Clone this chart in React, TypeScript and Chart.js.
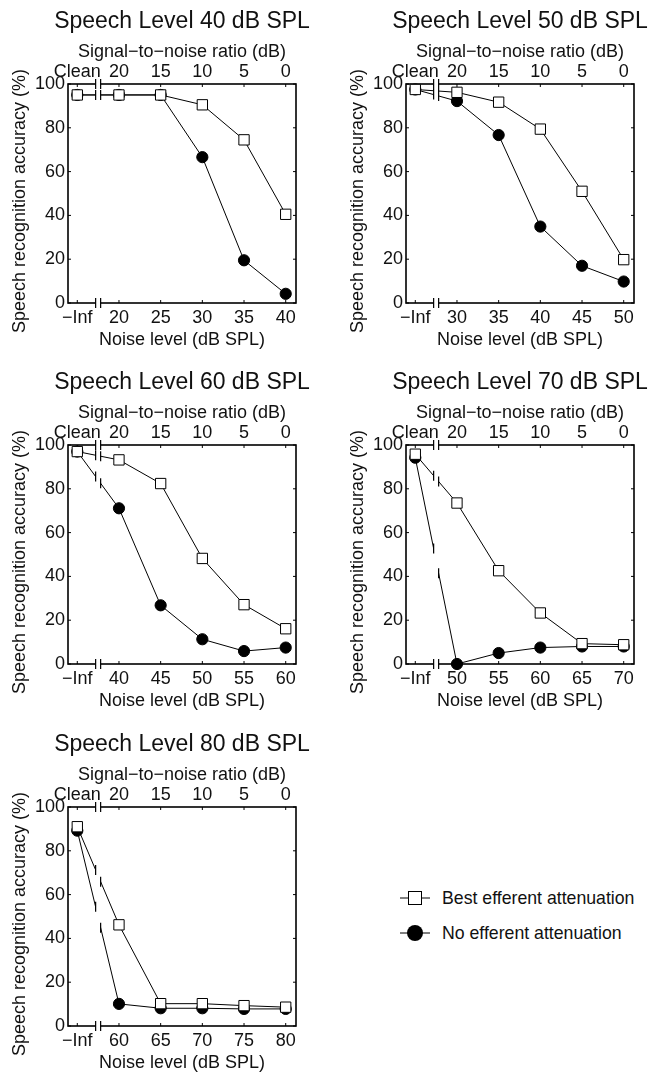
import React, { useEffect, useRef } from 'react';
import { Chart, registerables } from 'chart.js';

Chart.register(...registerables);

// ---------------- data ----------------
const speechLevels = [40, 50, 60, 70, 80];
const seriesNames = ['Best efferent attenuation', 'No efferent attenuation'];
const noiseTickLabels = [
  ['−Inf', '20', '25', '30', '35', '40'],
  ['−Inf', '30', '35', '40', '45', '50'],
  ['−Inf', '40', '45', '50', '55', '60'],
  ['−Inf', '50', '55', '60', '65', '70'],
  ['−Inf', '60', '65', '70', '75', '80'],
];
const snrTickLabels = ['Clean', '20', '15', '10', '5', '0'];
const yTickValues = [0, 20, 40, 60, 80, 100];
const bestEfferent = [
  [95, 95, 95, 90.5, 74.5, 40.5],
  [97.5, 96.2, 91.7, 79.4, 51, 19.8],
  [97, 93.2, 82.4, 48.2, 27.1, 16.1],
  [95.8, 73.5, 42.6, 23.3, 9.3, 8.8],
  [91, 46.2, 10.2, 10.2, 9.3, 8.6],
];
const noEfferent = [
  [95, 95, 95, 66.6, 19.5, 4.2],
  [97.5, 92.2, 76.7, 34.9, 17, 9.8],
  [97, 71.1, 26.8, 11.3, 5.9, 7.5],
  [94.2, 0, 5, 7.5, 8, 8],
  [89.2, 10.1, 8.1, 8.1, 7.8, 7.8],
];

// ---------------- layout / style ----------------
const FONT_FAMILY = '"Liberation Sans", Arial, Helvetica, sans-serif';
const TEXT_COLOR = '#111';
const CANVAS_W = 364;
const CANVAS_H = 349;
const PLOT_LEFT = 68;
const PLOT_RIGHT = 296;
const PLOT_TOP = 84;
const PLOT_BOTTOM = 303;
const TITLE_SIZE = 23;
const TITLE_PAD_TOP = 7.7;
const TITLE_BOX_H = TITLE_SIZE * 1.2 + TITLE_PAD_TOP;
const X_MIN = -0.223;
const X_MAX = 5.247;
const BREAK_START = 0.44;
const BREAK_END = 0.56;
const panelPositions = [
  { left: 0, top: 0 },
  { left: 338, top: 0 },
  { left: 0, top: 361 },
  { left: 338, top: 361 },
  { left: 0, top: 723 },
];

const tickFont = { family: FONT_FAMILY, size: 18 };
const axisTitleFont = { family: FONT_FAMILY, size: 18, lineHeight: 1 };

const frameBreakPlugin = {
  id: 'frameBreak',
  beforeDatasetsDraw(chart: any) {
    const { ctx, chartArea: a, scales } = chart;
    ctx.save();
    ctx.strokeStyle = '#000';
    ctx.lineWidth = 1.6;
    ctx.strokeRect(a.left, a.top, a.right - a.left, a.bottom - a.top);
    ctx.lineWidth = 1;
    ctx.beginPath();
    for (const t of scales.x.ticks) {
      const px = scales.x.getPixelForValue(t.value);
      ctx.moveTo(px, a.bottom);
      ctx.lineTo(px, a.bottom - 3);
      ctx.moveTo(px, a.top);
      ctx.lineTo(px, a.top + 3);
    }
    for (const t of scales.y.ticks) {
      const py = scales.y.getPixelForValue(t.value);
      ctx.moveTo(a.left, py);
      ctx.lineTo(a.left + 3, py);
      ctx.moveTo(a.right, py);
      ctx.lineTo(a.right - 3, py);
    }
    ctx.stroke();
    ctx.restore();
  },
  afterDatasetsDraw(chart: any) {
    const { ctx, chartArea: a, scales } = chart;
    const b0 = scales.x.getPixelForValue(BREAK_START);
    const b1 = scales.x.getPixelForValue(BREAK_END);
    ctx.save();
    ctx.fillStyle = '#fff';
    ctx.fillRect(b0, a.top - 2, b1 - b0, a.bottom - a.top + 4);
    ctx.strokeStyle = '#000';
    ctx.lineWidth = 1.2;
    ctx.beginPath();
    const mark = (x: number, y: number) => {
      ctx.moveTo(x, y - 5);
      ctx.lineTo(x, y + 5);
    };
    [b0, b1].forEach((bx) => {
      mark(bx, a.top);
      mark(bx, a.bottom);
    });
    chart.data.datasets.forEach((_: any, di: number) => {
      const meta = chart.getDatasetMeta(di);
      const p0 = meta.data[0];
      const p1 = meta.data[1];
      if (!p0 || !p1) return;
      [b0, b1].forEach((bx) => {
        const t = (bx - p0.x) / (p1.x - p0.x);
        mark(bx, p0.y + t * (p1.y - p0.y));
      });
    });
    ctx.stroke();
    ctx.restore();
  },
};

function buildConfig(i: number): any {
  const noiseLabels = noiseTickLabels[i];
  const toPoints = (vals: number[]) => vals.map((y, k) => ({ x: k, y }));
  const indexTicks = (scale: any) => {
    scale.ticks = noiseLabels.map((_, k) => ({ value: k }));
  };
  const commonDs = {
    borderColor: '#000',
    borderWidth: 1,
    pointBorderColor: '#000',
    pointBorderWidth: 1,
    tension: 0,
    fill: false,
    clip: false,
  };
  return {
    type: 'line',
    data: {
      datasets: [
        {
          ...commonDs,
          label: seriesNames[0],
          data: toPoints(bestEfferent[i]),
          pointStyle: 'rect',
          pointRadius: 7.3,
          pointBackgroundColor: '#fff',
          backgroundColor: '#fff',
        },
        {
          ...commonDs,
          label: seriesNames[1],
          data: toPoints(noEfferent[i]),
          pointStyle: 'circle',
          pointRadius: 5.6,
          pointBackgroundColor: '#000',
          backgroundColor: '#000',
        },
      ],
    },
    options: {
      animation: false,
      responsive: false,
      events: [],
      layout: { padding: 0 },
      plugins: {
        legend: { display: false },
        tooltip: { enabled: false },
        title: {
          display: true,
          text: `Speech Level ${speechLevels[i]} dB SPL`,
          color: TEXT_COLOR,
          font: { family: FONT_FAMILY, size: TITLE_SIZE, weight: 'normal', lineHeight: 1.2 },
          padding: { top: TITLE_PAD_TOP, bottom: 0 },
        },
      },
      scales: {
        x: {
          type: 'linear',
          position: 'bottom',
          min: X_MIN,
          max: X_MAX,
          afterBuildTicks: indexTicks,
          ticks: {
            callback: (v: any) => noiseLabels[v] ?? '',
            font: tickFont,
            color: TEXT_COLOR,
            padding: 4,
            maxRotation: 0,
            autoSkip: false,
          },
          grid: { display: false, drawTicks: false },
          border: { display: false },
          title: {
            display: true,
            text: 'Noise level (dB SPL)',
            font: axisTitleFont,
            color: TEXT_COLOR,
            padding: { top: 0, bottom: 0 },
          },
          afterFit: (s: any) => {
            s.height = CANVAS_H - PLOT_BOTTOM;
          },
        },
        x2: {
          type: 'linear',
          position: 'top',
          min: X_MIN,
          max: X_MAX,
          afterBuildTicks: indexTicks,
          ticks: {
            callback: (v: any) => snrTickLabels[v] ?? '',
            font: tickFont,
            color: TEXT_COLOR,
            padding: 1,
            maxRotation: 0,
            autoSkip: false,
          },
          grid: { display: false, drawTicks: false },
          border: { display: false },
          title: {
            display: true,
            text: 'Signal−to−noise ratio (dB)',
            font: axisTitleFont,
            color: TEXT_COLOR,
            padding: { top: 8.2, bottom: 0 },
          },
          afterFit: (s: any) => {
            s.height = PLOT_TOP - TITLE_BOX_H;
          },
        },
        y: {
          type: 'linear',
          position: 'left',
          min: 0,
          max: 100,
          afterBuildTicks: (s: any) => {
            s.ticks = yTickValues.map((v) => ({ value: v }));
          },
          ticks: { font: tickFont, color: TEXT_COLOR, padding: 3 },
          grid: { display: false, drawTicks: false },
          border: { display: false },
          title: {
            display: true,
            text: 'Speech recognition accuracy (%)   ',
            font: axisTitleFont,
            color: TEXT_COLOR,
            padding: { top: 11, bottom: 0 },
          },
          afterFit: (s: any) => {
            s.width = PLOT_LEFT;
          },
        },
        y2: {
          type: 'linear',
          position: 'right',
          min: 0,
          max: 100,
          ticks: { display: false },
          grid: { display: false, drawTicks: false },
          border: { display: false },
          afterFit: (s: any) => {
            s.width = CANVAS_W - PLOT_RIGHT;
          },
        },
      },
    },
    plugins: [frameBreakPlugin],
  };
}

function Panel({ index, left, top }: { index: number; left: number; top: number }) {
  const ref = useRef<HTMLCanvasElement>(null);
  useEffect(() => {
    if (!ref.current) return;
    const chart = new Chart(ref.current, buildConfig(index));
    return () => chart.destroy();
  }, [index]);
  return (
    <canvas
      ref={ref}
      width={CANVAS_W}
      height={CANVAS_H}
      style={{ position: 'absolute', left, top, width: CANVAS_W, height: CANVAS_H }}
    />
  );
}

function Legend() {
  const rows = [
    { label: seriesNames[0], marker: 'square', cy: 898 },
    { label: seriesNames[1], marker: 'circle', cy: 933 },
  ];
  return (
    <>
      {rows.map((r) => (
        <div
          key={r.label}
          style={{ position: 'absolute', left: 398, top: r.cy - 10, height: 20, display: 'flex', alignItems: 'center' }}
        >
          <svg width={34} height={20} style={{ display: 'block' }}>
            <line x1={2} y1={10} x2={32} y2={10} stroke="#000" strokeWidth={1} />
            {r.marker === 'square' ? (
              <rect x={10.5} y={3.5} width={13} height={13} fill="#fff" stroke="#000" strokeWidth={1} />
            ) : (
              <circle cx={17} cy={10} r={8} fill="#000" />
            )}
          </svg>
          <span
            style={{
              marginLeft: 10,
              fontSize: 17.7,
              lineHeight: '20px',
              color: TEXT_COLOR,
              whiteSpace: 'nowrap',
              fontFamily: FONT_FAMILY,
            }}
          >
            {r.label}
          </span>
        </div>
      ))}
    </>
  );
}

export default function App() {
  return (
    <div
      style={{
        position: 'absolute',
        left: 0,
        top: 0,
        width: 649,
        height: 1072,
        overflow: 'hidden',
        background: '#fff',
        fontFamily: FONT_FAMILY,
      }}
    >
      {panelPositions.map((p, i) => (
        <Panel key={i} index={i} left={p.left} top={p.top} />
      ))}
      <Legend />
    </div>
  );
}
